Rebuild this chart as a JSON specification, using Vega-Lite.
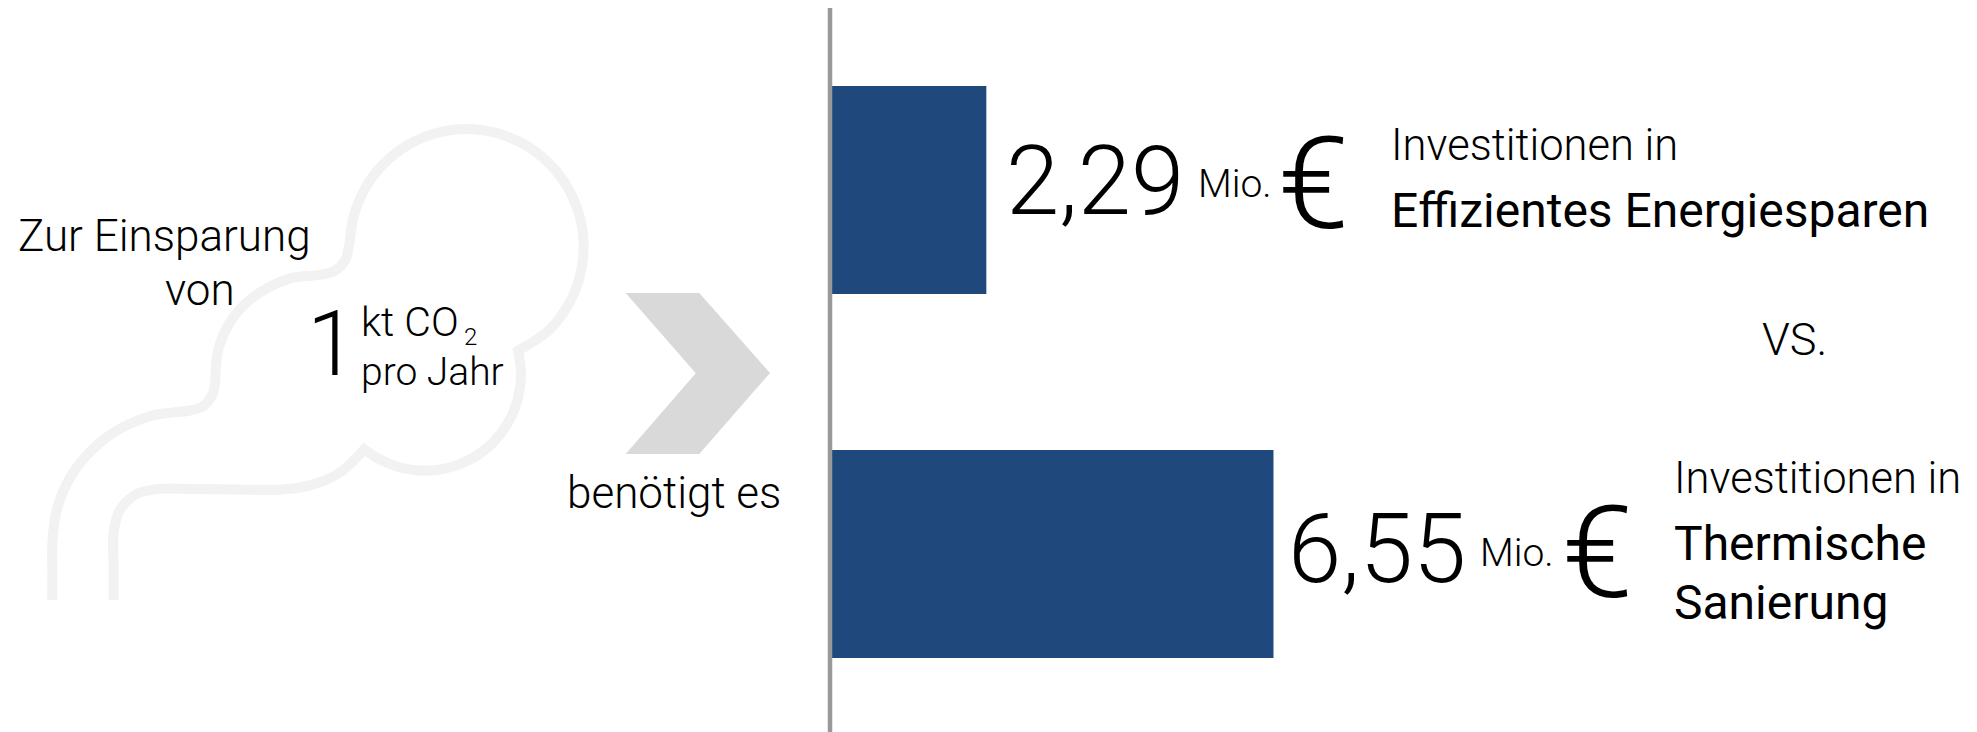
{
"$schema":"https://vega.github.io/schema/vega-lite/v6.json",
"width":1977,"height":732,"padding":0,
"autosize":{"type":"fit","contains":"padding"},
"background":"white",
"view":{"stroke":null},
"resolve":{"scale":{"x":"independent"}},
"layer":[
{"data":{"values":[
{"o":1,"x":52.2,"y":600},{"o":2,"x":52.3,"y":572.4},{"o":3,"x":52.4,"y":542.2},{"o":4,"x":57.2,"y":508},{"o":5,"x":70.9,"y":476.4},{"o":6,"x":92.8,"y":449.1},{"o":7,"x":121.3,"y":428.2},{"o":8,"x":154.4,"y":415},{"o":9,"x":190,"y":410.5},{"o":10,"x":202.8,"y":406.4},{"o":11,"x":212.1,"y":395.3},{"o":12,"x":215.5,"y":380},{"o":13,"x":215.5,"y":371.4},{"o":14,"x":219.1,"y":346.4},{"o":15,"x":229.5,"y":323.1},{"o":16,"x":246.1,"y":303.1},{"o":17,"x":267.8,"y":287.8},{"o":18,"x":293,"y":277.6},{"o":19,"x":320,"y":274.9},{"o":20,"x":334.5,"y":270.9},{"o":21,"x":345.1,"y":260.3},{"o":22,"x":349,"y":245.7},{"o":23,"x":353.6,"y":216.3},{"o":24,"x":365.3,"y":187.9},{"o":25,"x":383.9,"y":163.6},{"o":26,"x":408.1,"y":144.9},{"o":27,"x":436.3,"y":133.2},{"o":28,"x":466.6,"y":129.1},{"o":29,"x":496.9,"y":133.2},{"o":30,"x":525.1,"y":144.9},{"o":31,"x":549.3,"y":163.6},{"o":32,"x":567.9,"y":187.9},{"o":33,"x":579.6,"y":216.3},{"o":34,"x":583.6,"y":246.7},{"o":35,"x":579.6,"y":277.2},{"o":36,"x":567.9,"y":305.5},{"o":37,"x":549.3,"y":329.8},{"o":38,"x":518,"y":350.7},{"o":39,"x":518,"y":350.7},{"o":40,"x":521,"y":374.4},{"o":41,"x":517.7,"y":399.3},{"o":42,"x":508.1,"y":422.6},{"o":43,"x":492.9,"y":442.6},{"o":44,"x":473,"y":457.9},{"o":45,"x":449.8,"y":467.5},{"o":46,"x":425,"y":470.8},{"o":47,"x":400.2,"y":467.5},{"o":48,"x":377,"y":457.9},{"o":49,"x":364.2,"y":449.3},{"o":50,"x":364.2,"y":449.3},{"o":51,"x":338.5,"y":473.4},{"o":52,"x":308.8,"y":485.7},{"o":53,"x":277,"y":489.9},{"o":54,"x":240,"y":489.5},{"o":55,"x":195,"y":489.1},{"o":56,"x":158,"y":488.9},{"o":57,"x":135.8,"y":494.5},{"o":58,"x":119.5,"y":510.8},{"o":59,"x":113.5,"y":533.2},{"o":60,"x":113.5,"y":562.3},{"o":61,"x":113.5,"y":600}
]},
"mark":{"type":"line","interpolate":"catmull-rom","stroke":"#F2F2F2","strokeWidth":10,"strokeCap":"butt","strokeJoin":"miter"},
"encoding":{"order":{"field":"o","type":"quantitative"},
"x":{"field":"x","type":"quantitative","axis":null,"scale":{"domain":[0,1977]}},
"y":{"field":"y","type":"quantitative","axis":null,"scale":{"domain":[732,0]}}}},
{"data":{"values":[
{"part":"a","x":625.7,"y":293,"y2":293},{"part":"a","x":696,"y":293,"y2":373.5},{"part":"a","x":699.3,"y":293,"y2":373.5},{"part":"a","x":770,"y":373,"y2":373.5},
{"part":"b","x":625.7,"y":454,"y2":454},{"part":"b","x":696,"y":373,"y2":454},{"part":"b","x":699.3,"y":373,"y2":454},{"part":"b","x":770,"y":373,"y2":373}
]},
"mark":{"type":"area","color":"#D9D9D9"},
"encoding":{"detail":{"field":"part","type":"nominal"},
"x":{"field":"x","type":"quantitative","axis":null,"scale":{"domain":[0,1977]}},
"y":{"field":"y","type":"quantitative","axis":null,"scale":{"domain":[732,0]}},
"y2":{"field":"y2"}}},
{"data":{"values":[{"label":"Effizientes Energiesparen","base":0,"value":2.29,"top":86,"bottom":294},{"label":"Thermische Sanierung","base":0,"value":6.55,"top":450,"bottom":658}]},
"mark":{"type":"rect","color":"#1F497D"},
"encoding":{
"x":{"field":"base","type":"quantitative","axis":null,"scale":{"domain":[-12.344,16.988]}},
"x2":{"field":"value"},
"y":{"field":"top","type":"quantitative","axis":null,"scale":{"domain":[732,0]}},
"y2":{"field":"bottom"}}},
{"data":{"values":[{"x":830,"y":8,"y2":732}]},
"mark":{"type":"rule","color":"#999999","strokeWidth":4.5,"clip":true},
"encoding":{
"x":{"field":"x","type":"quantitative","axis":null,"scale":{"domain":[0,1977]}},
"y":{"field":"y","type":"quantitative","axis":null,"scale":{"domain":[732,0]}},
"y2":{"field":"y2"}}},
{"data":{"values":[
{"t":"Zur Einsparung","x":18,"y":251,"s":44},
{"t":"von","x":165,"y":305,"s":44},
{"t":"benötigt es","x":567,"y":508,"s":44},
{"t":"1","x":307,"y":375,"s":90},
{"t":"kt CO","x":361,"y":336,"s":41},
{"t":"2","x":464,"y":345,"s":24},
{"t":"pro Jahr","x":361,"y":385,"s":39},
{"t":"2,29","x":1006,"y":214,"s":96},
{"t":"Mio.","x":1198,"y":197,"s":39},
{"t":"€","x":1278,"y":228,"s":128},
{"t":"Investitionen in","x":1391,"y":160,"s":43.5},
{"t":"VS.","x":1762,"y":355,"s":45},
{"t":"6,55","x":1288,"y":582,"s":96},
{"t":"Mio.","x":1480,"y":566,"s":39},
{"t":"€","x":1562,"y":597,"s":128},
{"t":"Investitionen in","x":1674,"y":493,"s":43.5}
]},
"mark":{"type":"text","align":"left","baseline":"alphabetic","font":"Roboto","fontWeight":300,"color":"#000000"},
"encoding":{"text":{"field":"t","type":"nominal"},
"size":{"field":"s","type":"quantitative","scale":null,"legend":null},
"x":{"field":"x","type":"quantitative","axis":null,"scale":{"domain":[0,1977]}},
"y":{"field":"y","type":"quantitative","axis":null,"scale":{"domain":[732,0]}}}},
{"data":{"values":[
{"t":"Effizientes Energiesparen","x":1391,"y":227,"s":48},
{"t":"Thermische","x":1674,"y":560,"s":48},
{"t":"Sanierung","x":1674,"y":619,"s":48}
]},
"mark":{"type":"text","align":"left","baseline":"alphabetic","font":"Roboto","fontWeight":400,"color":"#000000"},
"encoding":{"text":{"field":"t","type":"nominal"},
"size":{"field":"s","type":"quantitative","scale":null,"legend":null},
"x":{"field":"x","type":"quantitative","axis":null,"scale":{"domain":[0,1977]}},
"y":{"field":"y","type":"quantitative","axis":null,"scale":{"domain":[732,0]}}}}
]
}
